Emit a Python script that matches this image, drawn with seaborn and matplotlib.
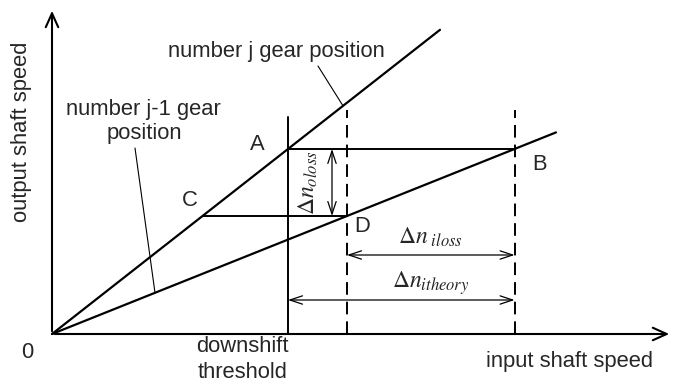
import matplotlib
matplotlib.use("Agg")
import matplotlib.pyplot as plt
import numpy as np
import pandas as pd
import seaborn as sns

sns.set_style("white")
plt.rcParams["font.family"] = ["Liberation Sans", "DejaVu Sans"]
plt.rcParams["mathtext.fontset"] = "stix"

# Gear ratios (output speed per unit input speed) and shift points
gear_names = ["number j gear position", "number j-1 gear position"]
gear_slopes = [0.784, 0.40]
gear_x_end = [388, 504]

threshold = 236          # downshift threshold on the input axis
d_input = 295            # input speed reached at point D

a_out = gear_slopes[0] * threshold          # point A (gear j at threshold)
b_in = a_out / gear_slopes[1]               # point B (same output, gear j-1)
d_out = gear_slopes[1] * d_input            # point D (gear j-1)
c_in = d_out / gear_slopes[0]               # point C (same output, gear j)

rows = []
for name, k, xe in zip(gear_names, gear_slopes, gear_x_end):
    for x in (0, xe):
        rows.append({"gear": name, "input": x, "output": k * x})
gears = pd.DataFrame(rows)

fig = plt.figure(figsize=(6.76, 3.83), dpi=100)
ax = fig.add_axes([0, 0, 1, 1])
ax.set_xlim(-52, 624)
ax.set_ylim(-49, 334)
ax.axis("off")

sns.lineplot(data=gears, x="input", y="output", units="gear", estimator=None,
             color="black", lw=1.6, ax=ax, legend=False)

# Axes with open arrow heads
ax.annotate("", xy=(620, 0), xytext=(0, 0),
            arrowprops=dict(arrowstyle="->,head_length=1.0,head_width=0.45", lw=1.5, color="black"))
ax.annotate("", xy=(0, 326), xytext=(0, 0),
            arrowprops=dict(arrowstyle="->,head_length=1.0,head_width=0.45", lw=1.5, color="black"))

# Threshold and shift lines
ax.plot([threshold, threshold], [0, 217], color="black", lw=1.4)
for xv in (d_input, b_in):
    ax.plot([xv, xv], [0, 224], color="black", lw=1.4, ls=(0, (6.5, 3.6)))
ax.plot([threshold, b_in], [a_out, a_out], color="black", lw=1.4)
ax.plot([c_in, d_input], [d_out, d_out], color="black", lw=1.4)

# Dimension arrows
dim = dict(arrowstyle="<->,head_length=0.9,head_width=0.3", lw=0.9, color="black",
           shrinkA=0, shrinkB=0)
ax.annotate("", xy=(280, a_out), xytext=(280, d_out), arrowprops=dim)
ax.annotate("", xy=(d_input, 79), xytext=(b_in, 79), arrowprops=dim)
ax.annotate("", xy=(threshold, 34), xytext=(b_in, 34), arrowprops=dim)

ax.text(256, (a_out + d_out) / 2, r"$\Delta n_{oloss}$", rotation=90, fontsize=17,
        ha="center", va="center")
ax.text((d_input + b_in) / 2, 97, r"$\Delta n_{\ iloss}$", fontsize=17,
        ha="center", va="center")
ax.text((d_input + b_in) / 2, 51, r"$\Delta n_{itheory}$", fontsize=17,
        ha="center", va="center")

# Leader lines to the gear lines
ax.plot([266, 291], [268, gear_slopes[0] * 291], color="black", lw=0.8)
ax.plot([83, 103], [186, gear_slopes[1] * 103], color="black", lw=0.8)

fs = 15.8
ax.text(224, 282, "number j gear position", fontsize=fs, ha="center", va="center")
ax.text(91, 224, "number j-1 gear", fontsize=fs, ha="center", va="center")
ax.text(92, 201, "position", fontsize=fs, ha="center", va="center")
ax.text(205, 189, "A", fontsize=fs, ha="center", va="center")
ax.text(488, 169, "B", fontsize=fs, ha="center", va="center")
ax.text(138, 134, "C", fontsize=fs, ha="center", va="center")
ax.text(310, 108, "D", fontsize=fs, ha="center", va="center")
ax.text(-25, -19, "0", fontsize=fs, ha="center", va="center")
ax.text(190, -13, "downshift", fontsize=fs, ha="center", va="center")
ax.text(191, -38, "threshold", fontsize=fs, ha="center", va="center")
ax.text(517, -28, "input shaft speed", fontsize=fs, ha="center", va="center")
ax.text(-30, 202, "output shaft speed", fontsize=fs, rotation=90, ha="center", va="center")

fig.savefig("out.png", dpi=100)
